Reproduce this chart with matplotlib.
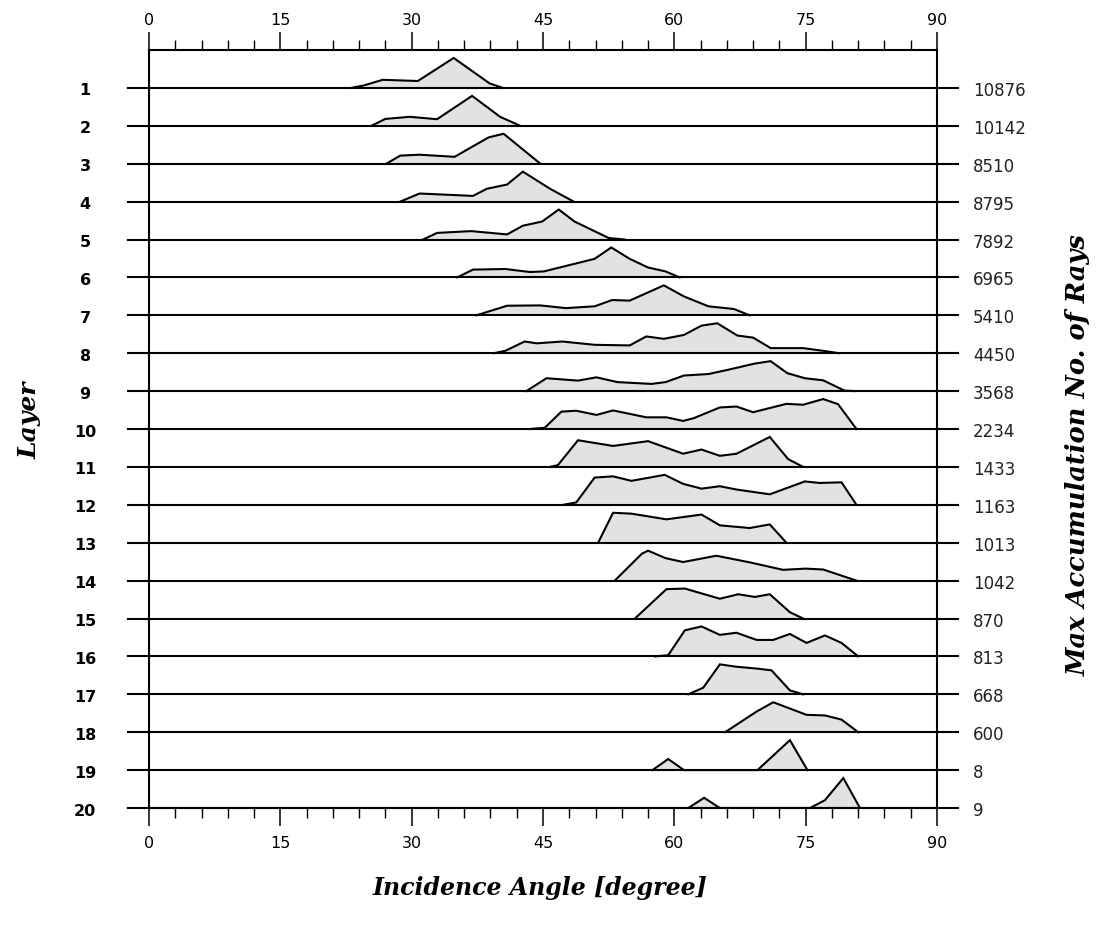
import matplotlib
matplotlib.use("Agg")
import matplotlib.pyplot as plt
from matplotlib.ticker import MultipleLocator

# Layer numbers and the maximum accumulated number of rays per layer
layers = list(range(1, 21))
max_rays = [10876, 10142, 8510, 8795, 7892, 6965, 5410, 4450, 3568, 2234,
            1433, 1163, 1013, 1042, 870, 813, 668, 600, 8, 9]

# Incidence-angle distribution of each layer (angles in degrees,
# counts normalised to the layer maximum)
profile_angles = [
    [23.1, 24.5, 26.7, 30.7, 34.8, 38.9, 40.4],
    [25.4, 27.0, 29.8, 32.9, 36.9, 40.1, 42.4],
    [27.1, 28.7, 30.9, 34.9, 38.8, 40.5, 44.7],
    [28.7, 30.9, 37.0, 38.6, 40.9, 42.7, 45.8, 48.5],
    [31.3, 32.9, 36.8, 40.9, 42.7, 44.9, 46.8, 48.6, 52.5, 54.3],
    [35.2, 37.0, 40.7, 43.5, 45.1, 50.9, 52.8, 54.9, 57.0, 59.0, 60.6],
    [37.4, 40.9, 44.7, 47.6, 50.9, 52.9, 54.9, 58.8, 61.1, 63.9, 66.8, 68.6],
    [39.4, 40.7, 42.9, 44.3, 47.2, 50.9, 54.9, 56.8, 58.8, 61.1, 63.1, 64.9,
     67.2, 69.0, 71.0, 74.7, 77.0, 78.8],
    [43.1, 45.4, 49.0, 51.1, 53.5, 57.4, 59.0, 61.1, 63.9, 66.1, 69.2, 71.0,
     72.9, 74.9, 77.0, 79.4, 80.6],
    [43.5, 45.2, 47.1, 48.8, 51.1, 53.0, 56.8, 59.1, 61.0, 62.2, 65.2, 67.1,
     69.0, 72.8, 74.7, 77.0, 78.7, 80.8],
    [45.8, 46.7, 49.0, 53.0, 57.0, 61.0, 63.1, 65.2, 67.1, 70.9, 73.0, 74.7],
    [47.3, 48.8, 50.9, 53.0, 55.1, 58.9, 61.0, 63.1, 65.2, 67.1, 70.9, 74.9,
     76.6, 79.1, 80.8],
    [51.3, 53.0, 55.1, 59.1, 63.1, 65.2, 68.6, 70.9, 72.8],
    [53.2, 56.3, 57.0, 59.0, 61.0, 64.8, 68.6, 72.4, 75.0, 77.0, 80.8],
    [55.5, 59.1, 61.2, 65.2, 67.3, 69.2, 70.9, 73.2, 74.7],
    [57.8, 59.3, 61.2, 63.1, 65.2, 67.1, 69.4, 71.3, 73.2, 75.1, 77.2, 79.1, 81.0],
    [61.6, 63.3, 65.2, 67.1, 69.4, 71.1, 73.2, 74.7],
    [65.8, 69.4, 71.3, 75.1, 77.2, 79.1, 81.0],
    [57.5, 59.3, 61.1, 69.5, 73.2, 75.2],
    [61.6, 63.4, 65.2, 75.5, 77.2, 79.3, 81.2],
]
profile_heights = [
    [0, 0.08, 0.27, 0.23, 1.0, 0.15, 0],
    [0, 0.23, 0.30, 0.22, 1.0, 0.30, 0],
    [0, 0.27, 0.30, 0.23, 0.88, 1.0, 0],
    [0, 0.27, 0.19, 0.43, 0.57, 1.0, 0.43, 0],
    [0, 0.22, 0.28, 0.17, 0.46, 0.60, 1.0, 0.60, 0.05, 0],
    [0, 0.26, 0.28, 0.18, 0.20, 0.62, 1.0, 0.62, 0.33, 0.20, 0],
    [0, 0.32, 0.33, 0.24, 0.30, 0.51, 0.49, 1.0, 0.63, 0.30, 0.21, 0],
    [0, 0.08, 0.39, 0.33, 0.39, 0.28, 0.26, 0.56, 0.48, 0.61, 0.92, 1.0,
     0.59, 0.52, 0.17, 0.17, 0.08, 0],
    [0, 0.43, 0.35, 0.46, 0.30, 0.24, 0.30, 0.52, 0.57, 0.71, 0.92, 1.0,
     0.60, 0.43, 0.36, 0.02, 0],
    [0, 0.04, 0.58, 0.61, 0.47, 0.62, 0.39, 0.39, 0.27, 0.36, 0.72, 0.75,
     0.56, 0.84, 0.81, 1.0, 0.83, 0],
    [0, 0.06, 0.89, 0.70, 0.86, 0.44, 0.58, 0.37, 0.44, 1.0, 0.26, 0],
    [0, 0.08, 0.91, 0.95, 0.80, 1.0, 0.70, 0.54, 0.62, 0.51, 0.35, 0.78,
     0.73, 0.75, 0],
    [0, 1.0, 0.97, 0.78, 0.94, 0.58, 0.49, 0.61, 0],
    [0, 0.90, 1.0, 0.75, 0.62, 0.83, 0.61, 0.36, 0.40, 0.37, 0],
    [0, 0.98, 1.0, 0.66, 0.81, 0.72, 0.81, 0.21, 0],
    [0, 0.04, 0.87, 1.0, 0.72, 0.79, 0.55, 0.55, 0.75, 0.45, 0.70, 0.45, 0],
    [0, 0.22, 1.0, 0.92, 0.86, 0.80, 0.13, 0],
    [0, 0.69, 1.0, 0.58, 0.56, 0.42, 0],
    [0, 0.37, 0, 0, 1.0, 0],
    [0, 0.34, 0, 0, 0.26, 1.0, 0],
]

W, H = 1102, 931
fig = plt.figure(figsize=(W / 100, H / 100), dpi=100)
ax = fig.add_axes([149 / W, (H - 808) / H, 788 / W, 758 / H])
ax.set_xlim(0, 90)
ax.set_ylim(0, 20)

ridge_scale = 0.79
line_w = 1.5
fill_col = "#e2e2e2"

for i, (ang, hts, rays) in enumerate(zip(profile_angles, profile_heights, max_rays)):
    base = 19 - i
    top = [base + h * ridge_scale for h in hts]
    ax.fill_between(ang, base, top, color=fill_col, lw=0, zorder=1)
    ax.plot(ang, top, color="black", lw=line_w, zorder=3, solid_joinstyle="miter")
    ax.plot([-2.4, 92.4], [base, base], color="black", lw=line_w,
            clip_on=False, zorder=4)
    ax.text(-7.3, base - 0.08, str(layers[i]), ha="center", va="center",
            fontsize=11.5, fontweight="bold", family="DejaVu Sans")
    ax.text(94.1, base - 0.08, str(rays), ha="left", va="center",
            fontsize=12, family="DejaVu Sans", color="#222222")

# axes frame and ticks
for side in ("top", "left", "right", "bottom"):
    ax.spines[side].set_linewidth(line_w)
ax.set_yticks([])
ax.xaxis.set_major_locator(MultipleLocator(15))
ax.xaxis.set_minor_locator(MultipleLocator(3))
ax.tick_params(axis="x", which="major", top=True, bottom=True,
               labeltop=True, labelbottom=True, direction="out",
               length=13, width=1.1, labelsize=11.5)
ax.tick_params(axis="x", which="minor", top=True, bottom=True,
               direction="out", length=7, width=1.0)
ax.tick_params(axis="x", which="major", pad=3)
for t in ax.xaxis.get_major_ticks():
    t.label1.set_y(-0.008)

ttl_font = dict(family="DejaVu Serif", fontweight="bold", style="italic")
fig.text(540 / W, 1 - 888 / H, "Incidence Angle [degree]", ha="center",
         va="center", fontsize=17, **ttl_font)
fig.text(30 / W, 1 - 420 / H, "Layer", ha="center", va="center",
         rotation=90, fontsize=18, **ttl_font)
fig.text(1078 / W, 1 - 455 / H, "Max Accumulation No. of Rays", ha="center",
         va="center", rotation=90, fontsize=18.5, **ttl_font)

fig.savefig("out.png", dpi=100)
